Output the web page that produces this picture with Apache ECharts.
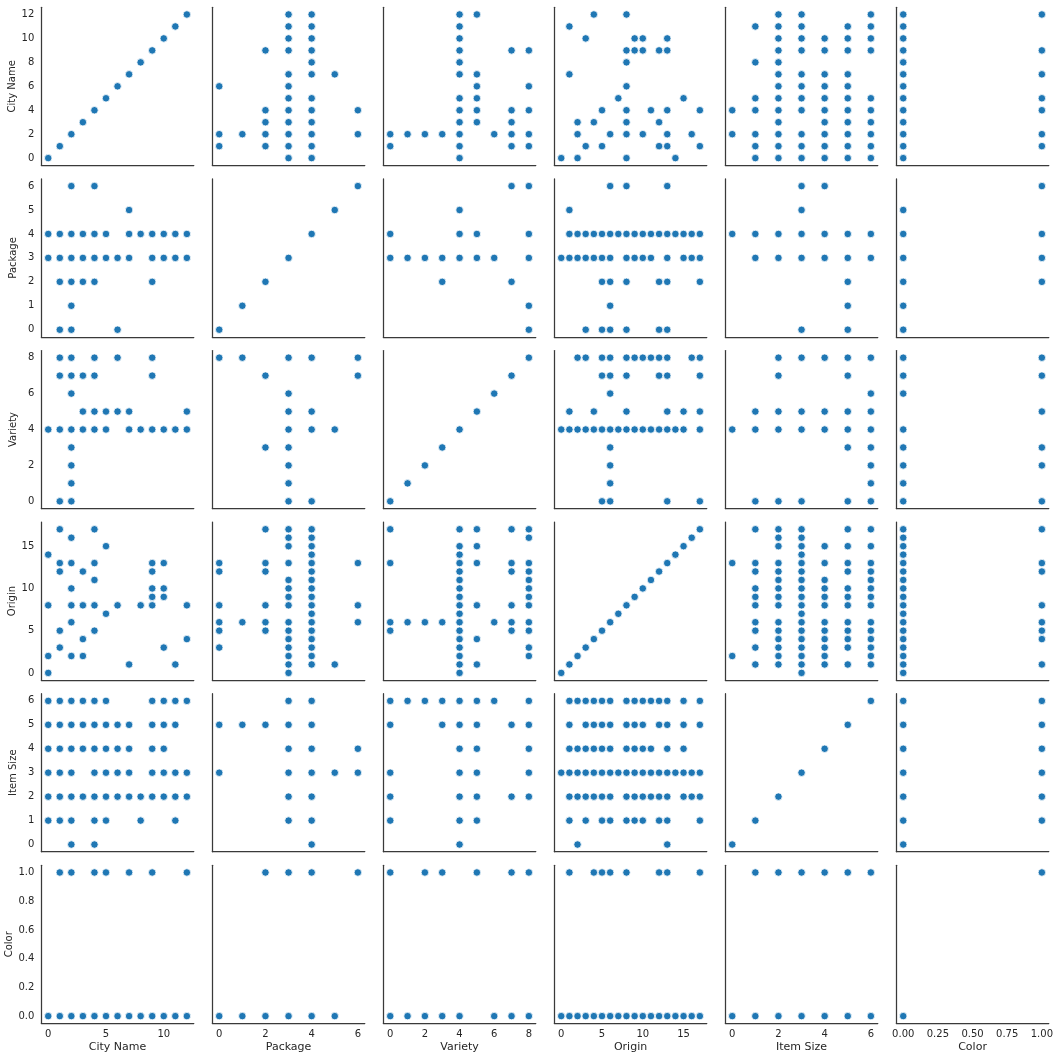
<!DOCTYPE html>
<html>
<head>
<meta charset="utf-8">
<title>Pair plot</title>
<script src="https://cdn.jsdelivr.net/npm/echarts@6/dist/echarts.min.js"></script>
<style>
    html, body { margin: 0; padding: 0; background: #fff; }
    #chart { width: 1058px; height: 1059px; }
</style>
</head>
<body>
<div id="chart"></div>
<script>
// variable names (rows top->bottom, columns left->right)
var varNames = ['City Name', 'Package', 'Variety', 'Origin', 'Item Size', 'Color'];

// distinct values of each variable (diagonal panels)
var cityLevels = [0, 1, 2, 3, 4, 5, 6, 7, 8, 9, 10, 11, 12];
var packageLevels = [0, 1, 2, 3, 4, 5, 6];
var varietyLevels = [0, 1, 2, 3, 4, 5, 6, 7, 8];
var originLevels = [0, 1, 2, 3, 4, 5, 6, 7, 8, 9, 10, 11, 12, 13, 14, 15, 16, 17];
var itemLevels = [0, 1, 2, 3, 4, 5, 6];
var colorLevels = [0, 1];

// tick labels
var cityYTicks = [0, 2, 4, 6, 8, 10, 12];
var cityXTicks = [0, 5, 10];
var packageYTicks = [0, 1, 2, 3, 4, 5, 6];
var packageXTicks = [0, 2, 4, 6];
var varietyTicks = [0, 2, 4, 6, 8];
var originTicks = [0, 5, 10, 15];
var itemYTicks = [0, 1, 2, 3, 4, 5, 6];
var itemXTicks = [0, 2, 4, 6];
var colorYTicks = [0, 0.2, 0.4, 0.6, 0.8, 1];
var colorXTicks = [0, 0.25, 0.5, 0.75, 1];

// pair tables: index = value of the first variable, list = values of the second one
var cityPackage = [
    [3, 4], [0, 2, 3, 4], [0, 1, 2, 3, 4, 6], [2, 3, 4], [2, 3, 4, 6], [3, 4], [0, 3],
    [3, 4, 5], [4], [2, 3, 4], [3, 4], [3, 4], [3, 4]
];
var cityVariety = [
    [4], [0, 4, 7, 8], [0, 1, 2, 3, 4, 6, 7, 8], [4, 5, 7], [4, 5, 7, 8], [4, 5], [5, 8],
    [4, 5], [4], [4, 7, 8], [4], [4], [4, 5]
];
var cityOrigin = [
    [0, 2, 8, 14], [3, 5, 12, 13, 17], [2, 6, 8, 10, 13, 16], [2, 4, 8, 12], [5, 8, 11, 13, 17],
    [7, 15], [8], [1], [8], [8, 9, 10, 12, 13], [3, 9, 10, 13], [1], [4, 8]
];
var cityItem = [
    [1, 2, 3, 4, 5, 6], [1, 2, 3, 4, 5, 6], [0, 1, 2, 3, 4, 5, 6], [2, 4, 5, 6], [0, 1, 2, 3, 4, 5, 6],
    [1, 2, 3, 4, 5, 6], [2, 3, 4, 5], [2, 3, 4, 5], [1, 2], [2, 3, 4, 5, 6], [2, 3, 4, 5, 6],
    [1, 2, 3, 5, 6], [2, 3, 6]
];
var cityColor = [
    [0], [0, 1], [0, 1], [0], [0, 1], [0, 1], [0], [0, 1], [0], [0, 1], [0], [0], [0, 1]
];
var packageVariety = [
    [8], [8], [3, 7], [0, 1, 2, 3, 4, 5, 6, 8], [0, 4, 5, 8], [4], [7, 8]
];
var packageOrigin = [
    [3, 5, 6, 8, 12, 13],
    [6],
    [5, 6, 8, 12, 13, 17],
    [0, 1, 2, 3, 4, 5, 6, 8, 9, 10, 11, 13, 15, 16, 17],
    [1, 2, 3, 4, 5, 6, 7, 8, 9, 10, 11, 12, 13, 14, 15, 16, 17],
    [1],
    [6, 8, 13]
];
var packageItem = [
    [3, 5], [5], [5], [1, 2, 3, 4, 5, 6], [0, 1, 2, 3, 4, 5, 6], [3], [3, 4]
];
var packageColor = [
    [0], [0], [0, 1], [0, 1], [0, 1], [0], [1]
];
var varietyOrigin = [
    [5, 6, 13, 17],
    [6],
    [6],
    [6],
    [0, 1, 2, 3, 4, 5, 6, 7, 8, 9, 10, 11, 12, 13, 14, 15, 17],
    [1, 4, 8, 13, 15, 17],
    [6],
    [5, 6, 8, 12, 13, 17],
    [2, 3, 5, 6, 8, 9, 10, 11, 12, 13, 16, 17]
];
var varietyItem = [
    [1, 2, 3, 5, 6], [6], [6], [5, 6], [0, 1, 2, 3, 4, 5, 6], [1, 2, 3, 4, 5, 6], [6], [2, 5], [2, 3, 4, 5, 6]
];
var varietyColor = [
    [0, 1], [0], [0, 1], [0, 1], [0], [1], [0], [0, 1], [0, 1]
];
var originItem = [
    [3], [1, 2, 3, 4, 5, 6], [0, 2, 3, 4, 6], [1, 2, 3, 4, 5, 6], [2, 3, 4, 5, 6],
    [1, 2, 3, 4, 5, 6], [1, 2, 3, 4, 5, 6], [3], [1, 2, 3, 4, 5, 6], [1, 2, 3, 4, 5, 6],
    [1, 2, 3, 4, 5, 6], [2, 3, 4, 6], [1, 2, 3, 5, 6], [0, 1, 2, 3, 4, 5, 6], [3],
    [2, 3, 4, 5, 6], [2, 3], [1, 2, 3, 5, 6]
];
var originColor = [
    [0], [0, 1], [0], [0], [0, 1], [0, 1], [0, 1], [0], [0, 1], [0], [0], [0],
    [0, 1], [0, 1], [0], [0], [0], [0, 1]
];
var itemColor = [
    [0], [0, 1], [0, 1], [0, 1], [0, 1], [0, 1], [0, 1]
];

var levels = [cityLevels, packageLevels, varietyLevels, originLevels, itemLevels, colorLevels];
var yTicks = [cityYTicks, packageYTicks, varietyTicks, originTicks, itemYTicks, colorYTicks];
var xTicks = [cityXTicks, packageXTicks, varietyTicks, originTicks, itemXTicks, colorXTicks];
var pairTables = {
    '0-1': cityPackage, '0-2': cityVariety, '0-3': cityOrigin, '0-4': cityItem, '0-5': cityColor,
    '1-2': packageVariety, '1-3': packageOrigin, '1-4': packageItem, '1-5': packageColor,
    '2-3': varietyOrigin, '2-4': varietyItem, '2-5': varietyColor,
    '3-4': originItem, '3-5': originColor,
    '4-5': itemColor
};

// points of panel (row r, column c): x = variable c, y = variable r
function panelPoints(r, c) {
    if (r === c) {
        return levels[r].map(function(v) { return [v, v]; });
    }
    var lo = Math.min(r, c), hi = Math.max(r, c);
    var table = pairTables[lo + '-' + hi];
    var pts = [];
    table.forEach(function(list, a) {
        list.forEach(function(b) {
            if (r < c) pts.push([b, a]);
            else pts.push([a, b]);
        });
    });
    return pts;
}

function axisRange(k) {
    var lv = levels[k];
    var lo = Math.min.apply(null, lv), hi = Math.max.apply(null, lv);
    var pad = (hi - lo) * 0.05;
    return [lo - pad, hi + pad];
}

function tickFormatter(k, isX) {
    return function(v) {
        if (k === 5) return isX ? v.toFixed(2) : v.toFixed(1);
        return String(Math.round(v));
    };
}

var myChart = echarts.init(document.getElementById('chart'));

var grids = [], xAxes = [], yAxes = [], series = [];
var textColor = '#262626';
var lineColor = '#3a3a3a';

for (var r = 0; r < 6; r++) {
    for (var c = 0; c < 6; c++) {
        var idx = grids.length;
        grids.push({
            left: 41.3 + 171 * c,
            top: 7.3 + 171.6 * r,
            width: 152.5,
            height: 158,
            outerBoundsMode: 'none'
        });
        var xr = axisRange(c), yr = axisRange(r);
        xAxes.push({
            gridIndex: idx,
            type: 'value',
            min: xr[0],
            max: xr[1],
            axisLine: { show: true, onZero: false, lineStyle: { color: lineColor, width: 1.25 } },
            axisTick: { show: false },
            splitLine: { show: false },
            axisLabel: {
                show: r === 5,
                customValues: xTicks[c],
                formatter: tickFormatter(c, true),
                color: textColor,
                fontSize: 10,
                fontFamily: 'DejaVu Sans',
                margin: 6
            },
            name: r === 5 ? varNames[c] : '',
            nameLocation: 'middle',
            nameGap: 18,
            nameTextStyle: { color: textColor, fontSize: 11, fontFamily: 'DejaVu Sans' }
        });
        yAxes.push({
            gridIndex: idx,
            type: 'value',
            min: yr[0],
            max: yr[1],
            axisLine: { show: true, onZero: false, lineStyle: { color: lineColor, width: 1.25 } },
            axisTick: { show: false },
            splitLine: { show: false },
            axisLabel: {
                show: c === 0,
                customValues: yTicks[r],
                formatter: tickFormatter(r, false),
                color: textColor,
                fontSize: 10,
                fontFamily: 'DejaVu Sans',
                margin: 7
            },
            name: c === 0 ? varNames[r] : '',
            nameLocation: 'middle',
            nameGap: 23,
            nameRotate: 90,
            nameTextStyle: { color: textColor, fontSize: 10, fontFamily: 'DejaVu Sans' }
        });
        series.push({
            type: 'scatter',
            xAxisIndex: idx,
            yAxisIndex: idx,
            data: panelPoints(r, c),
            symbolSize: 7.5,
            silent: true,
            itemStyle: {
                color: '#1f77b4',
                borderColor: '#ffffff',
                borderWidth: 0.8,
                opacity: 1
            }
        });
    }
}

var option = {
    animation: false,
    backgroundColor: '#ffffff',
    grid: grids,
    xAxis: xAxes,
    yAxis: yAxes,
    series: series
};

myChart.setOption(option);
</script>
</body>
</html>
